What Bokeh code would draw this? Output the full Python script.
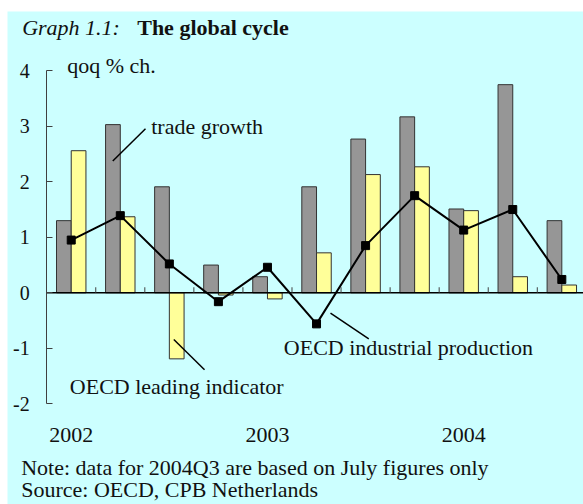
from bokeh.plotting import figure
from bokeh.models import Range1d, FixedTicker, Label
from bokeh.embed import file_html
from bokeh.resources import INLINE
import numpy as np

# ---- data ----
quarters = ["2002Q1", "2002Q2", "2002Q3", "2002Q4",
            "2003Q1", "2003Q2", "2003Q3", "2003Q4",
            "2004Q1", "2004Q2", "2004Q3"]
trade_growth = [1.30, 3.03, 1.91, 0.50, 0.29, 1.91, 2.77, 3.17, 1.51, 3.75, 1.30]
leading_indicator = [2.56, 1.37, -1.19, -0.04, -0.11, 0.72, 2.13, 2.27, 1.48, 0.29, 0.14]
industrial_production = [0.95, 1.39, 0.52, -0.16, 0.46, -0.56, 0.85, 1.75, 1.13, 1.50, 0.24]
year_labels = ["2002", "2003", "2004"]
y_ticks = [-2, -1, 0, 1, 2, 3, 4]

FONT = "Liberation Serif"
BG = "#CCFFFF"
TXT = "#111111"

n = len(quarters)
centers = np.arange(n) + 0.5
year_pos = [quarters.index(y + "Q1") + 0.5 for y in year_labels]

# frame covers the whole coloured panel; axes are fixed inside it
p = figure(width=583, height=504,
           x_range=Range1d(-0.799, 10.942), y_range=Range1d(-3.814, 5.068),
           min_border_left=7, min_border_right=0,
           min_border_top=11, min_border_bottom=0,
           background_fill_color=BG, border_fill_color="white",
           outline_line_color=None, toolbar_location=None,
           output_backend="svg")
p.grid.visible = False

# y axis
p.yaxis.fixed_location = 0
p.yaxis.bounds = (min(y_ticks), max(y_ticks))
p.yaxis.ticker = FixedTicker(ticks=y_ticks)
p.yaxis.major_label_overrides = {t: str(t) for t in y_ticks}
p.yaxis.major_tick_in = 6
p.yaxis.major_tick_out = 0
p.yaxis.minor_tick_line_color = None
p.yaxis.axis_line_color = "#404040"
p.yaxis.major_tick_line_color = "#404040"
p.yaxis.major_label_text_font = FONT
p.yaxis.major_label_text_font_size = "20px"
p.yaxis.major_label_text_color = TXT
p.yaxis.major_label_standoff = 17

# x axis (year labels)
p.xaxis.fixed_location = min(y_ticks)
p.xaxis.ticker = FixedTicker(ticks=year_pos)
p.xaxis.major_label_overrides = {pos: lab for pos, lab in zip(year_pos, year_labels)}
p.xaxis.axis_line_color = None
p.xaxis.major_tick_line_color = None
p.xaxis.minor_tick_line_color = None
p.xaxis.major_label_text_font = FONT
p.xaxis.major_label_text_font_size = "22px"
p.xaxis.major_label_text_color = TXT
p.xaxis.major_label_standoff = 18

# bars
bw = 0.3
p.vbar(x=centers - bw / 2, top=trade_growth, bottom=0, width=bw,
       fill_color="#969696", line_color="#333333", line_width=1)
p.vbar(x=centers + bw / 2, top=leading_indicator, bottom=0, width=bw,
       fill_color="#FFFF99", line_color="#333333", line_width=1)

# zero line and category ticks
p.segment(x0=[0], y0=[0], x1=[n], y1=[0], line_color="black", line_width=1.5)
bounds = np.arange(1, n)
p.segment(x0=bounds, y0=0, x1=bounds, y1=0.1, line_color="#404040", line_width=1)

# industrial production
p.line(centers, industrial_production, line_color="black", line_width=2)
p.scatter(centers, industrial_production, marker="square", size=8,
          fill_color="black", line_color="black")

# callout lines
callouts = [((1.347, 2.375), (2.014, 2.955)),
            ((2.591, -0.841), (3.217, -1.387)),
            ((5.785, -0.368), (6.565, -0.829))]
p.segment(x0=[c[0][0] for c in callouts], y0=[c[0][1] for c in callouts],
          x1=[c[1][0] for c in callouts], y1=[c[1][1] for c in callouts],
          line_color="black", line_width=1.5)

SHIFT = 0.108  # baseline correction for Label rendering

def lab(x, y, text, size="22px", style="normal"):
    p.add_layout(Label(x=x, y=y + SHIFT, text=text, text_font=FONT, text_font_size=size,
                       text_font_style=style, text_color=TXT,
                       text_baseline="alphabetic", text_align="left"))

lab(2.13, 2.894, "trade growth")
lab(0.471, -1.791, "OECD leading indicator")
lab(4.833, -1.099, "OECD industrial production")
lab(0.418, 3.99, "qoq % ch.")
lab(-0.50, 4.68, "Graph 1.1:", size="22px", style="italic")
lab(1.845, 4.68, "The global cycle", size="22px", style="bold")
lab(-0.52, -3.254, "Note: data for 2004Q3 are based on July figures only")
lab(-0.52, -3.652, "Source: OECD, CPB Netherlands")

open("out.html", "w").write(file_html(p, INLINE))
